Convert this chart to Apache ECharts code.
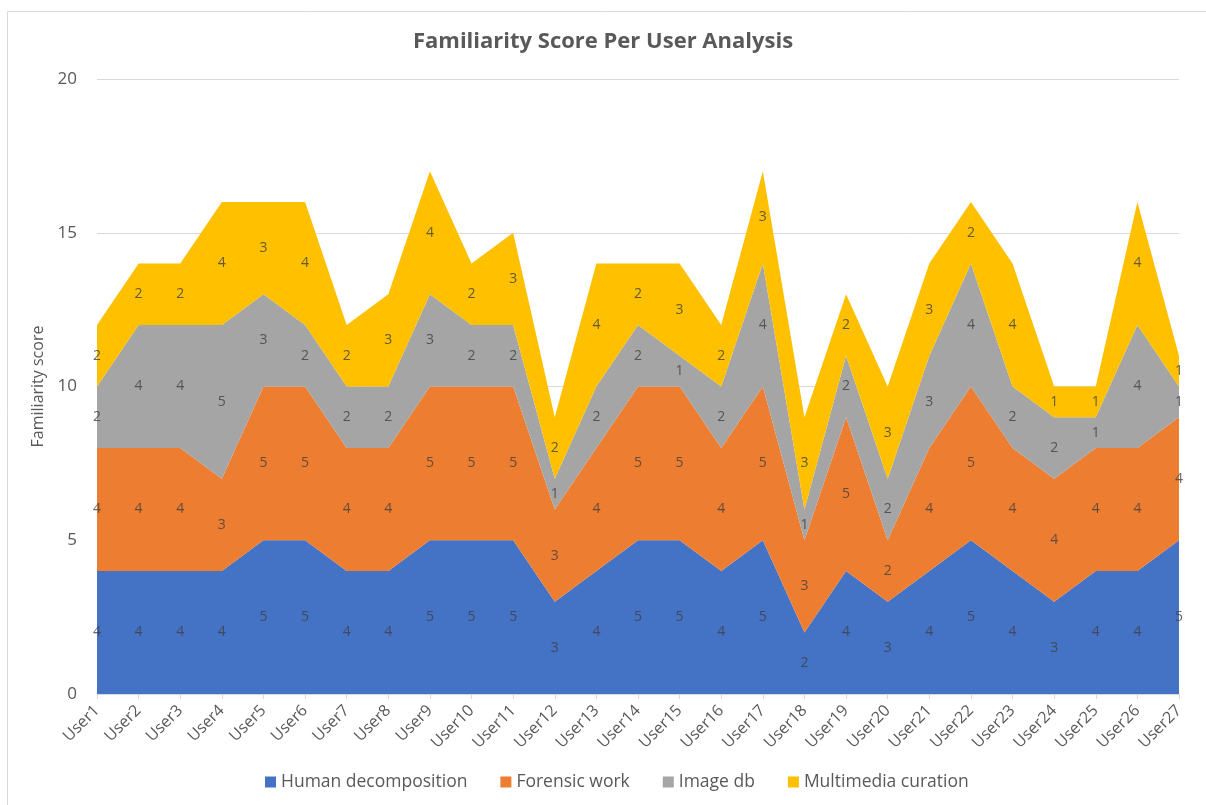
<!DOCTYPE html>
<html>
<head>
<meta charset="utf-8">
<script src="https://cdn.jsdelivr.net/npm/echarts@6/dist/echarts.min.js"></script>
<style>
html,body{margin:0;padding:0;background:#fff;}
#chart{width:1206px;height:805px;}
</style>
</head>
<body>
<div id="chart"></div>
<script>
const categories = ['User1','User2','User3','User4','User5','User6','User7','User8','User9','User10','User11','User12','User13','User14','User15','User16','User17','User18','User19','User20','User21','User22','User23','User24','User25','User26','User27'];
const humanDecomposition = [4,4,4,4,5,5,4,4,5,5,5,3,4,5,5,4,5,2,4,3,4,5,4,3,4,4,5];
const forensicWork       = [4,4,4,3,5,5,4,4,5,5,5,3,4,5,5,4,5,3,5,2,4,5,4,4,4,4,4];
const imageDb            = [2,4,4,5,3,2,2,2,3,2,2,1,2,2,1,2,4,1,2,2,3,4,2,2,1,4,1];
const multimediaCuration = [2,2,2,4,3,4,2,3,4,2,3,2,4,2,3,2,3,3,2,3,3,2,4,1,1,4,1];
const yTicks = {min:0, max:20, interval:5};

const seriesDefs = [
  {name:'Human decomposition', data:humanDecomposition, color:'#4472C4'},
  {name:'Forensic work', data:forensicWork, color:'#ED7D31'},
  {name:'Image db', data:imageDb, color:'#A5A5A5'},
  {name:'Multimedia curation', data:multimediaCuration, color:'#FFC000'}
];

const font = '"Open Sans", "Noto Sans", sans-serif';
const series = [];
seriesDefs.forEach(s => {
  series.push({
    name:s.name, type:'line', stack:'total', data:s.data,
    symbol:'none', lineStyle:{width:0}, areaStyle:{color:s.color, opacity:1},
    itemStyle:{color:s.color}, z:2
  });
});
// label series at middle of each band
const cum = categories.map(()=>0);
seriesDefs.forEach(s => {
  const pts = s.data.map((v,i) => { const mid = cum[i] + v/2; cum[i] += v; return [i, mid, v]; });
  series.push({
    name:s.name + ' labels', type:'scatter', data:pts, symbolSize:0, silent:true, z:5,
    encode:{x:0,y:1},
    label:{show:true, position:'inside', formatter:p => String(p.value[2]), color:'#404040', fontSize:14, fontFamily:font}
  });
});

const chart = echarts.init(document.getElementById('chart'));
chart.setOption({
  animation:false,
  backgroundColor:'#fff',
  title:{text:'Familiarity Score Per User Analysis', left:'center', top:26,
    textStyle:{fontSize:22, fontWeight:'bold', color:'#595959', fontFamily:font}},
  legend:{data:seriesDefs.map(s=>s.name), bottom:9, left:260, icon:'rect', itemWidth:11, itemHeight:11, itemGap:33,
    textStyle:{fontSize:17.5, color:'#595959', fontFamily:font}},
  grid:{left:97, right:27, top:79, bottom:111, containLabel:false},
  xAxis:{type:'category', data:categories, boundaryGap:false,
    axisLine:{lineStyle:{color:'#d9d9d9'}},
    axisTick:{show:true, length:5, lineStyle:{color:'#d9d9d9'}},
    axisLabel:{rotate:45, fontSize:16, color:'#595959', fontFamily:font, margin:14, interval:0}},
  yAxis:{type:'value', min:yTicks.min, max:yTicks.max, interval:yTicks.interval,
    name:'Familiarity score', nameLocation:'middle', nameGap:46, nameRotate:90,
    nameTextStyle:{fontSize:16, color:'#595959', fontFamily:font},
    axisLine:{show:false}, axisTick:{show:false},
    splitLine:{lineStyle:{color:'#d9d9d9'}},
    axisLabel:{fontSize:17, color:'#595959', fontFamily:font, margin:20}},
  graphic:[{type:'rect', shape:{x:7.5, y:11.5, width:1300, height:900}, style:{fill:null, stroke:'#d9d9d9', lineWidth:1}, silent:true}],
  series:series
});
</script>
</body>
</html>
